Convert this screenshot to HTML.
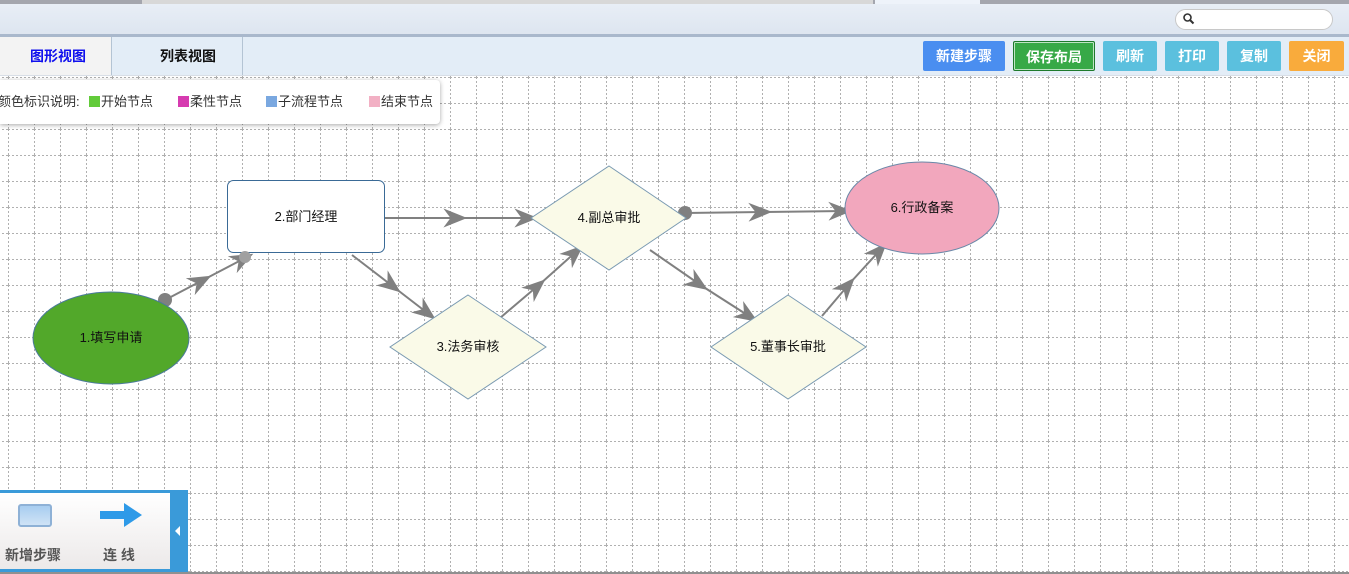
<!DOCTYPE html>
<html><head><meta charset="utf-8"><style>
*{margin:0;padding:0;box-sizing:border-box}
body{width:1349px;height:574px;overflow:hidden;position:relative;background:#fff;font-family:"Liberation Sans","Noto Sans CJK SC",sans-serif}
.abs{position:absolute}
.btn{position:absolute;top:41px;height:30px;color:#fff;font-weight:bold;font-size:14px;text-align:center;line-height:30px;border-radius:2px}
</style></head><body>
<div class="abs" style="left:0;top:0;width:1349px;height:4px;background:#a4a6ae"></div>
<div class="abs" style="left:142px;top:0;width:731px;height:4px;background:#d8d8d8"></div>
<div class="abs" style="left:875px;top:0;width:105px;height:4px;background:#eef3fa"></div>
<div class="abs" style="left:0;top:4px;width:1349px;height:31px;background:linear-gradient(#e8eef6,#dde5f0)"></div>
<div class="abs" style="left:0;top:34px;width:1349px;height:3px;background:#a9b8cc"></div>
<div class="abs" style="left:1175px;top:9px;width:158px;height:21px;border-radius:11px;background:#fff;border:1px solid #c8c8c8"></div>
<svg class="abs" style="left:1182px;top:12px" width="14" height="14"><circle cx="5.5" cy="5.5" r="3.5" stroke="#333" stroke-width="1.6" fill="none"/><path d="M8 8L11.5 11.5" stroke="#333" stroke-width="2"/></svg>
<div class="abs" style="left:0;top:37px;width:1349px;height:39px;background:#e3edf7;border-bottom:1px solid #d8dee6"></div>
<div class="abs" style="left:0;top:37px;width:112px;height:38px;background:#f3f3f3;border-right:1px solid #b4c4d4;color:#1010ee;font-weight:bold;font-size:14px;line-height:38px"><span style="position:absolute;left:30px">图形视图</span></div>
<div class="abs" style="left:112px;top:37px;width:131px;height:38px;border-right:1px solid #b4c4d4;color:#111;font-weight:bold;font-size:14px;line-height:38px"><span style="position:absolute;left:48px">列表视图</span></div>
<div class="btn" style="left:923px;width:82px;background:#4a8ef0">新建步骤</div>
<div class="btn" style="left:1013px;width:82px;background:#37a947;border:1px solid #1d7a2c;box-shadow:inset 0 0 0 1px #bfe3c4">保存布局</div>
<div class="btn" style="left:1103px;width:54px;background:#5bc0de">刷新</div>
<div class="btn" style="left:1165px;width:54px;background:#5bc0de">打印</div>
<div class="btn" style="left:1227px;width:54px;background:#5bc0de">复制</div>
<div class="btn" style="left:1289px;width:55px;background:#f9ab3c">关闭</div>
<svg class="abs" style="left:0;top:76px" width="1349" height="496">
<defs>
<pattern id="g" width="26" height="26" patternUnits="userSpaceOnUse" x="8" y="1">
<path d="M0 0.5H26M0.5 0V26" stroke="#b0b0b0" stroke-dasharray="2,2" fill="none"/>
</pattern>
<marker id="a" viewBox="0 0 20 16" refX="14" refY="8" markerWidth="24" markerHeight="19" markerUnits="userSpaceOnUse" orient="auto">
<path d="M0 0L20 8L0 16L6 8Z" fill="#808080"/></marker>
</defs>
<rect width="1349" height="496" fill="url(#g)"/>
</svg>
<div class="abs" style="left:0;top:80px;width:440px;height:44px;background:#fff;box-shadow:0 1px 5px rgba(0,0,0,.35);border-radius:0 4px 4px 0;font-size:13px;color:#333;line-height:44px;white-space:nowrap">
<span style="position:absolute;left:-2px">颜色标识说明:</span>
<span style="position:absolute;left:89px;top:16px;width:11px;height:11px;background:#62cb3a"></span><span style="position:absolute;left:101px">开始节点</span>
<span style="position:absolute;left:178px;top:16px;width:11px;height:11px;background:#d63bb0"></span><span style="position:absolute;left:190px">柔性节点</span>
<span style="position:absolute;left:266px;top:16px;width:11px;height:11px;background:#7aa8e0"></span><span style="position:absolute;left:278px">子流程节点</span>
<span style="position:absolute;left:369px;top:16px;width:11px;height:11px;background:#f2b0c4"></span><span style="position:absolute;left:381px">结束节点</span>
</div>
<svg class="abs" style="left:0;top:0" width="1349" height="574" font-family="Liberation Sans,Noto Sans CJK SC,sans-serif" font-size="13">
<g stroke="#808080" stroke-width="2" fill="none">
<polyline points="165,300 205,279 247,257" marker-mid="url(#a)" marker-end="url(#a)"/>
<polyline points="385,218 460,218 531,218" marker-mid="url(#a)" marker-end="url(#a)"/>
<polyline points="352,255 395,288 430,315" marker-mid="url(#a)" marker-end="url(#a)"/>
<polyline points="500,318 540,284 578,250" marker-mid="url(#a)" marker-end="url(#a)"/>
<polyline points="685,213 765,212 845,211" marker-mid="url(#a)" marker-end="url(#a)"/>
<polyline points="650,250 702,286 752,318" marker-mid="url(#a)" marker-end="url(#a)"/>
<polyline points="822,316 850,283 882,248" marker-mid="url(#a)" marker-end="url(#a)"/>
</g>
<circle cx="165" cy="300" r="7" fill="#808080"/>
<circle cx="685" cy="213" r="7" fill="#808080"/>
<ellipse cx="111" cy="338" rx="78" ry="46" fill="#52a82a" stroke="#4a7a9a"/>
<text x="111" y="342" text-anchor="middle" fill="#111">1.填写申请</text>
<rect x="227.5" y="180.5" width="157" height="72" rx="6" fill="#fff" stroke="#3a6a96"/>
<text x="306" y="221" text-anchor="middle" fill="#111">2.部门经理</text>
<circle cx="245" cy="257" r="6" fill="#a0a0a0"/>
<polygon points="468,295 546,347 468,399 390,347" fill="#fafae8" stroke="#7a9ab2"/>
<text x="468" y="351" text-anchor="middle" fill="#111">3.法务审核</text>
<polygon points="609,166 686,218 609,270 531,218" fill="#fafae8" stroke="#7a9ab2"/>
<text x="609" y="222" text-anchor="middle" fill="#111">4.副总审批</text>
<polygon points="788,295 866,347 788,399 711,347" fill="#fafae8" stroke="#7a9ab2"/>
<text x="788" y="351" text-anchor="middle" fill="#111">5.董事长审批</text>
<ellipse cx="922" cy="208" rx="77" ry="46" fill="#f2a7bd" stroke="#6a88a8"/>
<text x="922" y="212" text-anchor="middle" fill="#111">6.行政备案</text>
</svg>
<div class="abs" style="left:0;top:490px;width:188px;height:82px;background:#3a9ad9"></div>
<div class="abs" style="left:0;top:493px;width:170px;height:76px;background:linear-gradient(#fff,#ece9e9)"></div>
<div class="abs" style="left:18px;top:504px;width:34px;height:23px;border-radius:3px;background:linear-gradient(#a8cdf0,#cfe3f6);border:2px solid #8eb1d6"></div>
<svg class="abs" style="left:98px;top:500px" width="46" height="30"><path d="M2 11H26V3L44 15L26 27V19H2Z" fill="#2e9ae8"/></svg>
<div class="abs" style="left:5px;top:545px;font-size:14px;font-weight:bold;color:#555">新增步骤</div>
<div class="abs" style="left:103px;top:545px;font-size:14px;font-weight:bold;color:#555">连 线</div>
<div class="abs" style="left:175px;top:526px;width:0;height:0;border-top:5px solid transparent;border-bottom:5px solid transparent;border-right:5px solid #fff"></div>
<div class="abs" style="left:0;top:572px;width:1349px;height:2px;background:#909090"></div>
</body></html>
